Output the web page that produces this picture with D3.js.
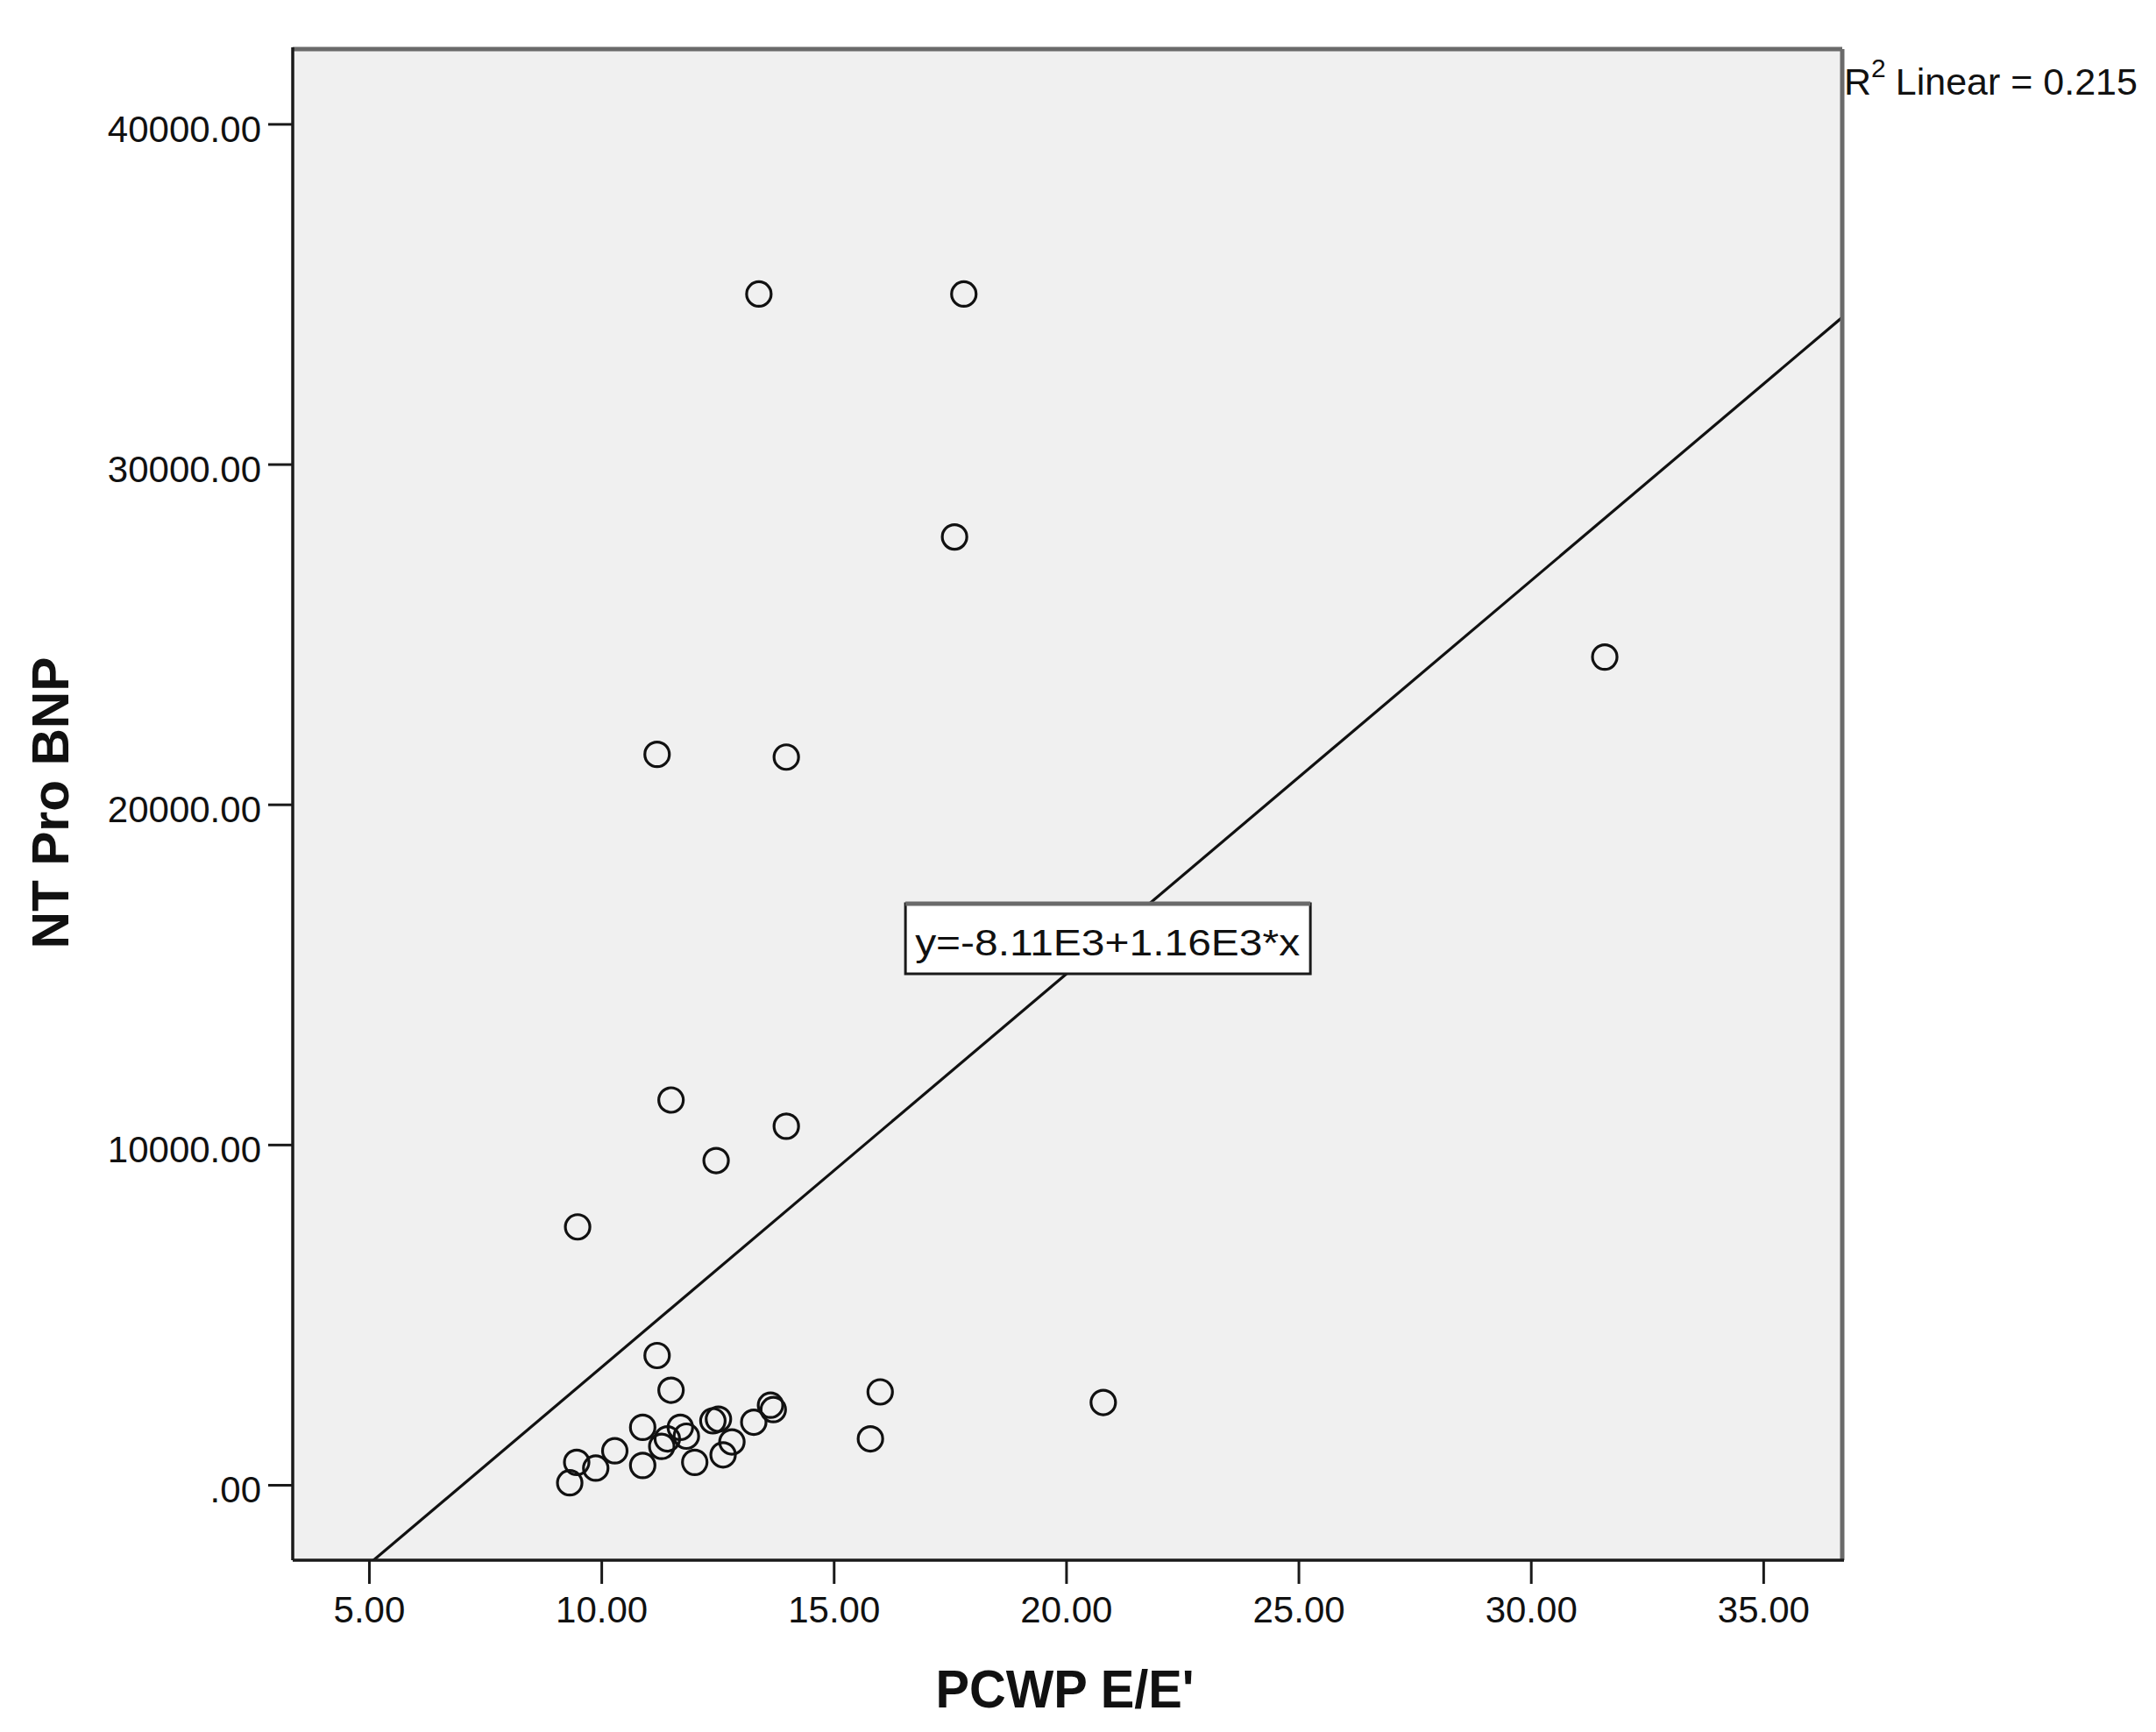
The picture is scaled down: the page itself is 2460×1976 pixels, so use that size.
<!DOCTYPE html>
<html>
<head>
<meta charset="utf-8">
<script src="https://cdnjs.cloudflare.com/ajax/libs/d3/7.8.5/d3.min.js"></script>
<style>
	body { margin: 0; background: #fff; }
	text { font-family: "Liberation Sans", Arial, sans-serif; fill: #111; }
</style>
</head>
<body>
<div id="chart"></div>
<script>
// PCWP E/E' against NT Pro BNP
var pcwp = [13.39, 17.80, 17.60, 31.59, 11.20, 13.98, 11.50, 13.98, 12.47, 9.49,
	11.20, 11.50, 16.00, 20.80, 15.79, 13.64, 13.70, 13.28, 12.40, 12.52,
	12.81, 12.62, 12.01, 11.83, 11.70, 11.42, 11.30, 10.89, 10.89, 10.29,
	9.88, 9.47, 9.32]
var ntProBnp = [35000, 35000, 27860, 24330, 21470, 21390, 11310, 10540, 9530, 7580,
	3800, 2780, 2730, 2420, 1350, 2340, 2210, 1840, 1880, 1930,
	1260, 880, 660, 1430, 1690, 1350, 1130, 1690, 570, 1000,
	490, 660, 60]

var xTicks = [5, 10, 15, 20, 25, 30, 35]
var xTickLabels = ["5.00", "10.00", "15.00", "20.00", "25.00", "30.00", "35.00"]
var yTicks = [0, 10000, 20000, 30000, 40000]
var yTickLabels = [".00", "10000.00", "20000.00", "30000.00", "40000.00"]

var fitIntercept = -8110
var fitSlope = 1156
var fitLabel = "y=-8.11E3+1.16E3*x"
var fitLabelAt = 20.9
var r2Text = "0.215"

var width = 2460
var height = 1976
// plot box edges (window.top is taken, so prefix them)
var pLeft = 334, pRight = 2102, pTop = 56, pBottom = 1780

var x = d3.scaleLinear().domain([3.36, 36.7]).range([pLeft, pRight])
var y = d3.scaleLinear().domain([-2216, 42200]).range([pBottom, pTop])

var svg = d3.select("#chart").append("svg")
	.attr("width", width)
	.attr("height", height)

svg.append("rect").attr("width", width).attr("height", height).style("fill", "#fff")

// plot background
svg.append("rect")
	.attr("x", pLeft).attr("y", pTop)
	.attr("width", pRight - pLeft).attr("height", pBottom - pTop)
	.style("fill", "#f0f0f0")

svg.append("clipPath").attr("id", "plotclip")
	.append("rect")
	.attr("x", pLeft).attr("y", pTop)
	.attr("width", pRight - pLeft).attr("height", pBottom - pTop)

// regression line
var fitLine = d3.line()
	.x(function (d) { return x(d) })
	.y(function (d) { return y(fitIntercept + fitSlope * d) })
svg.append("path")
	.attr("clip-path", "url(#plotclip)")
	.attr("d", fitLine(x.domain()))
	.style("fill", "none")
	.style("stroke", "#111")
	.style("stroke-width", 3.2)

// points
var data = pcwp.map(function (v, i) { return { x: v, y: ntProBnp[i] } })
svg.selectAll("circle.pt")
	.data(data)
	.enter()
	.append("circle")
	.attr("class", "pt")
	.attr("cx", function (d) { return x(d.x) })
	.attr("cy", function (d) { return y(d.y) })
	.attr("r", 14)
	.style("fill", "none")
	.style("stroke", "#111")
	.style("stroke-width", 3.2)

// frame: top/right grey, left/bottom dark like SPSS
svg.append("line").attr("x1", pLeft).attr("x2", pRight).attr("y1", pTop).attr("y2", pTop)
	.style("stroke", "#6a6a6a").style("stroke-width", 5)
svg.append("line").attr("x1", pRight).attr("x2", pRight).attr("y1", pTop).attr("y2", pBottom)
	.style("stroke", "#6a6a6a").style("stroke-width", 5)
svg.append("line").attr("x1", pLeft).attr("x2", pLeft).attr("y1", pTop - 2).attr("y2", pBottom)
	.style("stroke", "#1a1a1a").style("stroke-width", 3.5)
svg.append("line").attr("x1", pLeft).attr("x2", pRight + 2).attr("y1", pBottom).attr("y2", pBottom)
	.style("stroke", "#1a1a1a").style("stroke-width", 3.5)

// axes
var xAxis = svg.append("g")
	.attr("transform", "translate(0," + pBottom + ")")
	.call(d3.axisBottom(x).tickValues(xTicks)
		.tickFormat(function (d, i) { return xTickLabels[i] })
		.tickSize(27).tickPadding(14))
var yAxis = svg.append("g")
	.attr("transform", "translate(" + pLeft + ",0)")
	.call(d3.axisLeft(y).tickValues(yTicks)
		.tickFormat(function (d, i) { return yTickLabels[i] })
		.tickSize(28).tickPadding(8))

;[xAxis, yAxis].forEach(function (g) {
	g.select(".domain").remove()
	g.selectAll(".tick line").style("stroke", "#1a1a1a").style("stroke-width", 3)
	g.selectAll(".tick text")
		.style("font-family", "'Liberation Sans', Arial, sans-serif")
		.style("font-size", "42px")
		.style("fill", "#111")
})
yAxis.selectAll(".tick text").attr("dy", "0.47em")

// equation label sitting on the fit line
var cx = x(fitLabelAt)
var cy = y(fitIntercept + fitSlope * fitLabelAt)
var bw = 462, bh = 80
var box = svg.append("g").attr("transform", "translate(" + (cx - bw / 2) + "," + (cy - bh / 2) + ")")
box.append("rect").attr("width", bw).attr("height", bh).style("fill", "#fff")
	.style("stroke", "#1a1a1a").style("stroke-width", 3)
box.append("line").attr("x1", 0).attr("x2", bw).attr("y1", 0).attr("y2", 0)
	.style("stroke", "#6a6a6a").style("stroke-width", 5)
box.append("text")
	.attr("x", 11).attr("y", 59)
	.attr("textLength", 439).attr("lengthAdjust", "spacingAndGlyphs")
	.style("font-size", "42px")
	.text(fitLabel)

// R squared note
var r2 = svg.append("text").attr("x", pRight + 2).attr("y", 108).style("font-size", "43px")
r2.append("tspan").text("R")
r2.append("tspan").attr("dy", -20).style("font-size", "30px").text("2")
r2.append("tspan").attr("dy", 20).attr("dx", 11).text("Linear = " + r2Text)

// axis titles
svg.append("text")
	.attr("x", 1215).attr("y", 1948)
	.attr("text-anchor", "middle")
	.attr("textLength", 295).attr("lengthAdjust", "spacingAndGlyphs")
	.style("font-size", "62px").style("font-weight", "bold")
	.text("PCWP E/E'")

svg.append("text")
	.attr("transform", "translate(78," + 916 + ") rotate(-90)")
	.attr("text-anchor", "middle")
	.attr("textLength", 333).attr("lengthAdjust", "spacingAndGlyphs")
	.style("font-size", "60px").style("font-weight", "bold")
	.text("NT Pro BNP")
</script>
</body>
</html>
